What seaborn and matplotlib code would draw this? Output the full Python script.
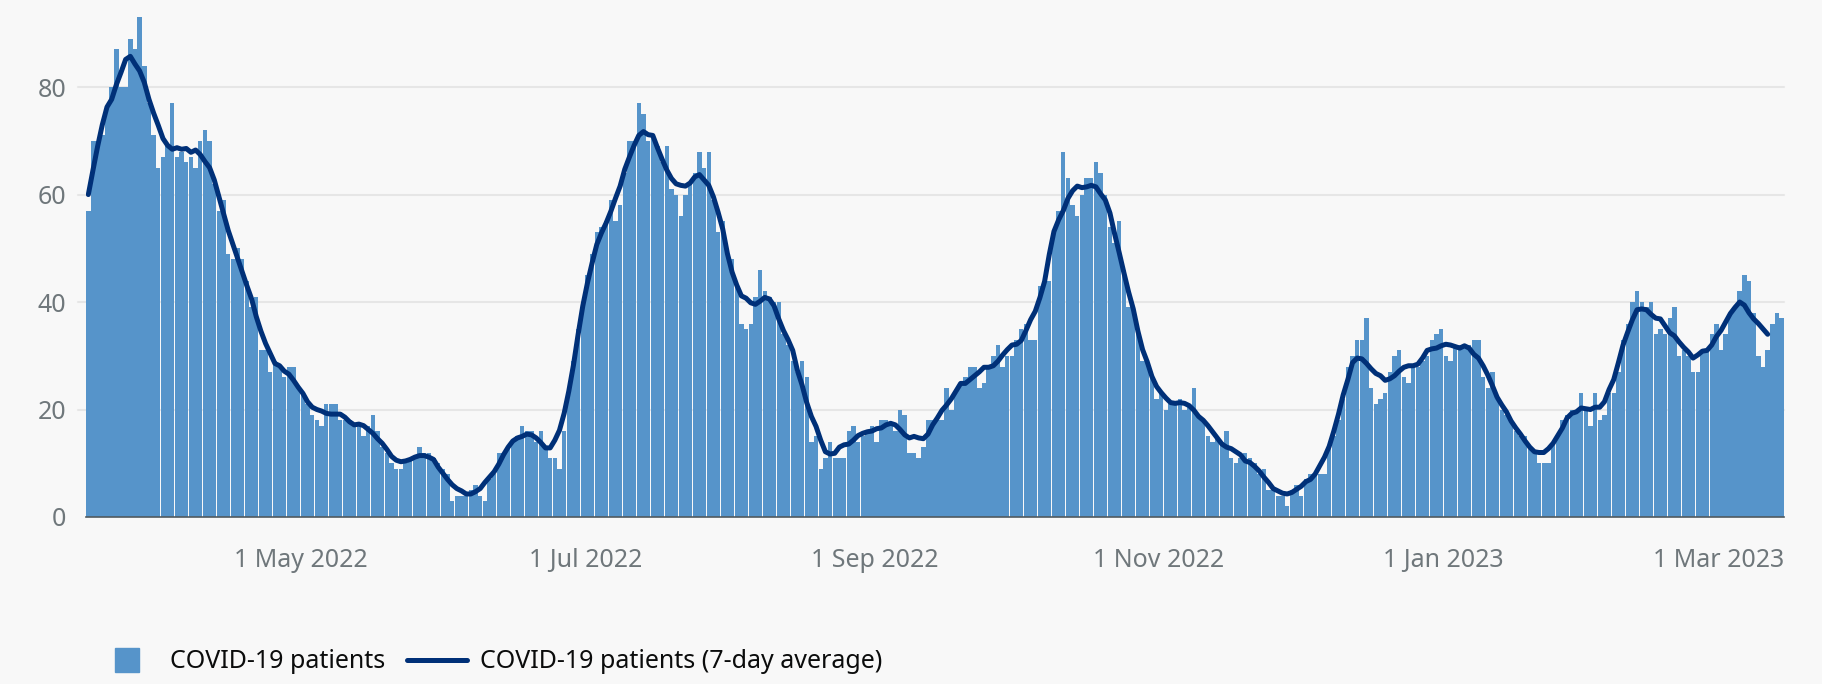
import numpy as np
import pandas as pd
import seaborn as sns
import matplotlib.pyplot as plt
from matplotlib.lines import Line2D

# daily COVID-19 patients, 16 Mar 2022 - 14 Mar 2023
start_date = "2022-03-16"
# three days before the first bar, only used to feed the first 7-day averages
lead_in = [44, 49, 59]
patients = [
    57, 70, 70, 71, 76, 80, 87, 80, 80, 89,
    87, 93, 84, 77, 71, 65, 67, 69, 77, 67,
    68, 66, 67, 65, 70, 72, 70, 62, 57, 59,
    49, 48, 50, 48, 44, 39, 41, 31, 31, 27,
    29, 28, 26, 28, 28, 24, 23, 21, 19, 18,
    17, 21, 21, 21, 18, 18, 18, 17, 17, 15,
    17, 19, 16, 13, 12, 10, 9, 9, 10, 11,
    11, 13, 12, 12, 11, 10, 9, 8, 3, 4,
    4, 4, 5, 6, 4, 3, 7, 8, 12, 12,
    13, 14, 15, 17, 16, 16, 14, 16, 13, 11,
    11, 9, 16, 24, 29, 35, 40, 45, 49, 53,
    54, 55, 59, 55, 58, 64, 70, 70, 77, 75,
    70, 71, 69, 66, 69, 61, 60, 56, 60, 62,
    64, 68, 65, 68, 59, 53, 55, 49, 48, 43,
    36, 35, 36, 41, 46, 42, 41, 40, 40, 34,
    32, 29, 27, 29, 26, 14, 15, 9, 11, 14,
    11, 11, 11, 16, 17, 14, 15, 16, 17, 14,
    18, 18, 17, 16, 20, 19, 12, 12, 11, 13,
    18, 18, 18, 18, 24, 20, 23, 25, 26, 28,
    28, 24, 25, 28, 30, 32, 28, 30, 30, 33,
    35, 36, 33, 33, 43, 44, 44, 53, 57, 68,
    63, 58, 56, 60, 63, 63, 66, 64, 60, 54,
    51, 55, 46, 39, 39, 34, 29, 29, 26, 22,
    23, 20, 21, 21, 22, 20, 21, 24, 19, 18,
    15, 14, 15, 14, 16, 11, 10, 11, 12, 11,
    10, 8, 9, 5, 5, 4, 4, 2, 5, 6,
    4, 7, 8, 8, 8, 8, 13, 15, 18, 22,
    28, 30, 33, 33, 37, 24, 21, 22, 23, 27,
    30, 31, 26, 25, 28, 28, 29, 30, 33, 34,
    35, 30, 29, 32, 32, 32, 32, 33, 33, 26,
    24, 27, 22, 20, 19, 18, 16, 15, 15, 13,
    12, 10, 10, 10, 14, 15, 18, 19, 20, 20,
    23, 20, 17, 23, 18, 19, 23, 23, 27, 33,
    36, 40, 42, 40, 39, 40, 34, 35, 34, 37,
    39, 30, 31, 30, 27, 27, 31, 31, 34, 36,
    31, 34, 38, 39, 42, 45, 44, 38, 30, 28,
    31, 36, 38, 37,
]
tick_dates = ["2022-05-01", "2022-07-01", "2022-09-01",
              "2022-11-01", "2023-01-01", "2023-03-01"]
y_ticks = [0, 20, 40, 60, 80]

BAR = "#5694ca"
LINE = "#003078"
BG = "#f8f8f8"
GREY = "#6f777b"

dates = pd.date_range(start_date, periods=len(patients), freq="D")
# centred 7-day average, no value for the last three days
avg = pd.Series(lead_in + patients).rolling(7, center=True).mean()
avg = avg.iloc[len(lead_in):].to_numpy()
df = pd.DataFrame({"day": np.arange(len(dates)), "patients": patients, "avg": avg})

sns.set_theme(style="white")
plt.rcParams["font.family"] = ["Noto Sans", "DejaVu Sans"]

W, H = 1822, 684
fig = plt.figure(figsize=(W / 100, H / 100), dpi=100, facecolor=BG)
ax = fig.add_axes([86 / W, 1 - 517 / H, (1784 - 86) / W, 517 / H])
ax.set_facecolor(BG)

sns.barplot(data=df, x="day", y="patients", color=BAR, saturation=1,
            width=0.94, linewidth=0, native_scale=True, ax=ax)
sns.lineplot(data=df, x="day", y="avg", color=LINE, linewidth=3.6, ax=ax)

ax.set_xlim(-0.5, len(dates) - 0.5)
ax.set_ylim(0, 96.2)
ticks = dates.get_indexer(pd.to_datetime(tick_dates)) - 0.5
ax.set_xticks(ticks)
ax.set_xticklabels([f"{d.day} {d:%b %Y}" for d in pd.to_datetime(tick_dates)])
ax.set_yticks(y_ticks)
ax.set_xlabel("")
ax.set_ylabel("")

# gridlines run a little past the left edge of the bars
for y in y_ticks[1:]:
    ax.axhline(y, xmin=-0.005, xmax=1, color="#e6e6e6", linewidth=1.5,
               zorder=0, clip_on=False)
for side in ["top", "right", "left"]:
    ax.spines[side].set_visible(False)
ax.spines["bottom"].set_color("#505a5f")
ax.spines["bottom"].set_linewidth(1.2)

ax.tick_params(axis="x", length=5, width=1.5, color="#0b0c0c", pad=17,
               labelsize=18, labelcolor=GREY)
ax.tick_params(axis="y", length=0, pad=14, labelsize=18, labelcolor=GREY)

handles = [
    Line2D([], [], marker="s", linestyle="none", markersize=17, color=BAR),
    Line2D([], [], color=LINE, linewidth=3.6),
]
leg = fig.legend(handles, ["COVID-19 patients", "COVID-19 patients (7-day average)"],
                 loc="center left", bbox_to_anchor=(97 / W, 1 - 662 / H), ncol=2,
                 frameon=False, fontsize=18, handlelength=2.4, handletextpad=0.5,
                 columnspacing=0.9, borderpad=0, borderaxespad=0)
for t in leg.get_texts():
    t.set_color("#0b0c0c")

fig.savefig("out.png", dpi=100, facecolor=BG)
